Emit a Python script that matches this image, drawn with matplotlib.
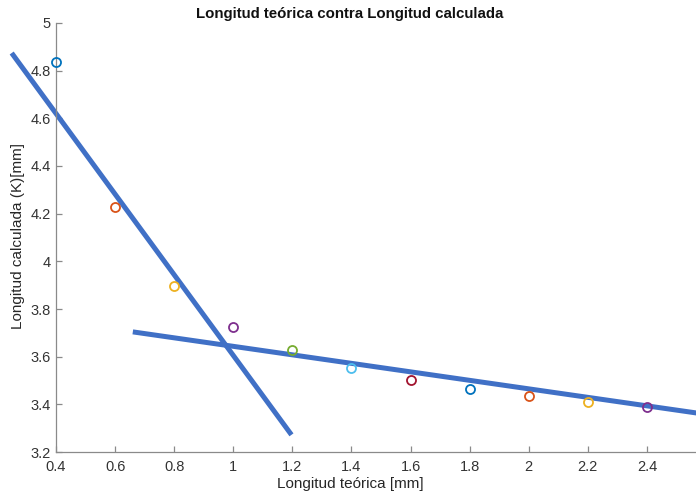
import matplotlib
matplotlib.use("Agg")
import matplotlib.pyplot as plt

plt.rcParams['font.family'] = ['Liberation Sans', 'DejaVu Sans']

# Measured points: theoretical vs calculated length
longitud_teorica = [0.4, 0.6, 0.8, 1.0, 1.2, 1.4, 1.6, 1.8, 2.0, 2.2, 2.4]
longitud_calculada = [4.835, 4.226, 3.895, 3.724, 3.626, 3.553, 3.504, 3.466, 3.434, 3.410, 3.387]
colores = ['#0072BD', '#D95319', '#EDB120', '#7E2F8E', '#77AC30', '#4DBEEE',
           '#A2142F', '#0072BD', '#D95319', '#EDB120', '#7E2F8E']

# Two fitted trend lines (endpoints)
recta1_x = [0.25, 1.197]
recta1_y = [4.874, 3.272]
recta2_x = [0.66, 2.6]
recta2_y = [3.704, 3.358]

x_ticks = [0.4, 0.6, 0.8, 1.0, 1.2, 1.4, 1.6, 1.8, 2.0, 2.2, 2.4]
x_tick_labels = ['0.4', '0.6', '0.8', '1', '1.2', '1.4', '1.6', '1.8', '2', '2.2', '2.4']
y_ticks = [3.2, 3.4, 3.6, 3.8, 4.0, 4.2, 4.4, 4.6, 4.8, 5.0]
y_tick_labels = ['3.2', '3.4', '3.6', '3.8', '4', '4.2', '4.4', '4.6', '4.8', '5']

fig = plt.figure(figsize=(6.96, 4.94), dpi=100)
ax = fig.add_axes([56 / 696, 42 / 494, 650 / 696, 429 / 494])

line_color = '#4070C6'
ax.plot(recta1_x, recta1_y, color=line_color, lw=3.6, solid_capstyle='butt', clip_on=False, zorder=2)
ax.plot(recta2_x, recta2_y, color=line_color, lw=3.6, solid_capstyle='butt', zorder=2)

for x, y, c in zip(longitud_teorica, longitud_calculada, colores):
    ax.plot([x], [y], 'o', mfc='none', mec=c, mew=1.3, ms=6.5, clip_on=False, zorder=3)

ax.set_xlim(0.4, 2.6)
ax.set_ylim(3.2, 5.0)
ax.set_xticks(x_ticks)
ax.set_xticklabels(x_tick_labels)
ax.set_yticks(y_ticks)
ax.set_yticklabels(y_tick_labels)

for s in ['top', 'right']:
    ax.spines[s].set_visible(False)
for s in ['left', 'bottom']:
    ax.spines[s].set_color('#8a8a8a')
    ax.spines[s].set_linewidth(0.9)

ax.tick_params(direction='in', length=4, width=0.9, color='#8a8a8a',
               labelsize=10.5, labelcolor='#333333')
ax.tick_params(axis='x', pad=6)
ax.tick_params(axis='y', pad=4)

fig.text(350 / 696, 1 - 14 / 494, 'Longitud teórica contra Longitud calculada',
         ha='center', va='center', fontsize=10.8, fontweight='bold', color='#111111')
fig.text(350 / 696, 1 - 484 / 494, 'Longitud teórica [mm]',
         ha='center', va='center', fontsize=11, color='#262626')
fig.text(18 / 696, 1 - 236 / 494, 'Longitud calculada (K)[mm]',
         ha='center', va='center', rotation=90, fontsize=11, color='#262626')

fig.savefig('out.png', dpi=100)
